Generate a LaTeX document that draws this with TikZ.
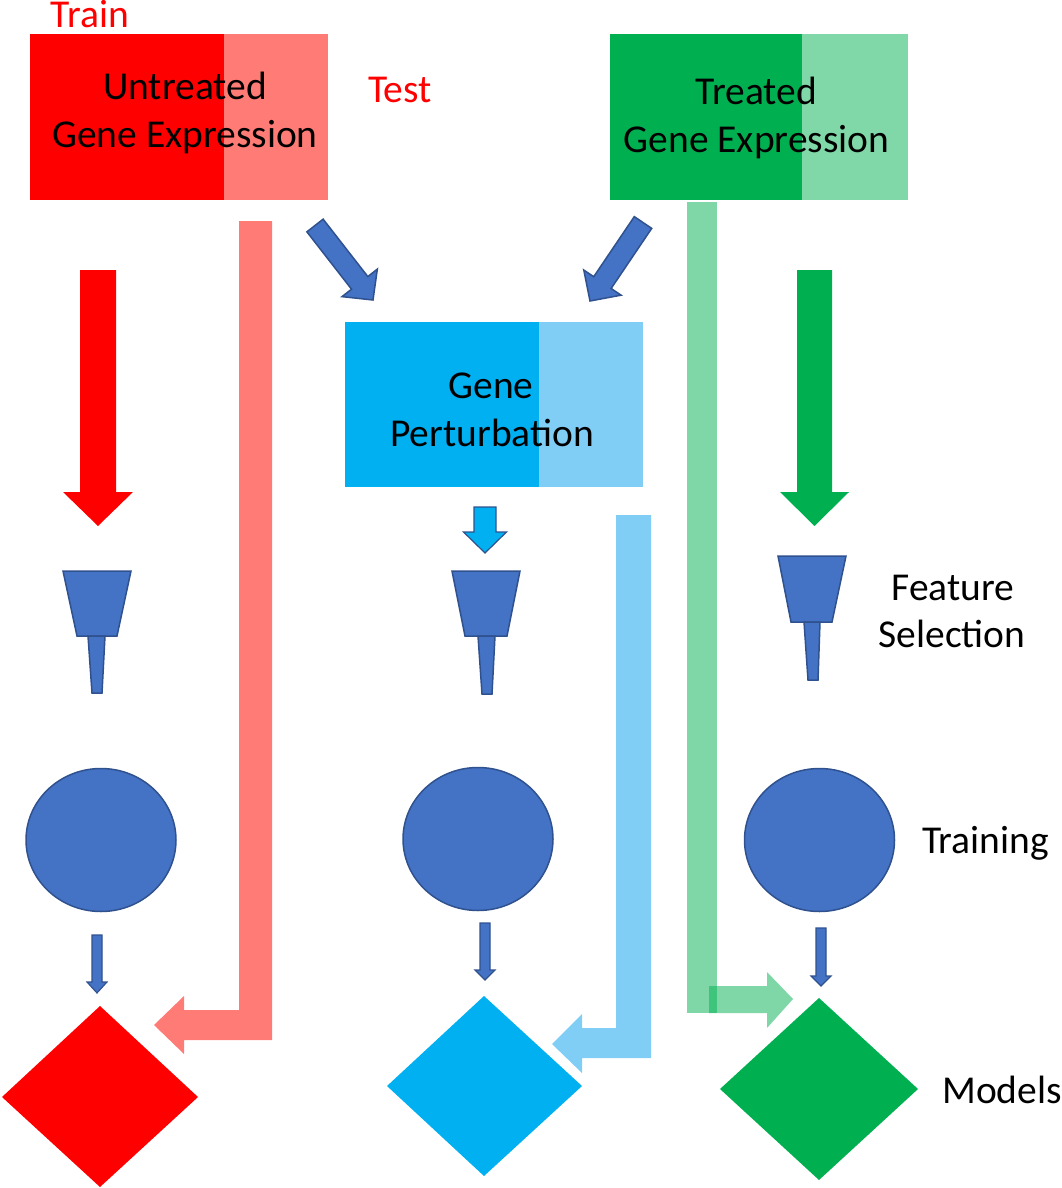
\documentclass[tikz,border=0pt]{standalone}
\usepackage{fontspec}
\setmainfont{Carlito}
\usetikzlibrary{calc,shapes.geometric}
\definecolor{dred}{HTML}{FF0000}
\definecolor{lred}{HTML}{FF7C76}
\definecolor{dgreen}{HTML}{00B050}
\colorlet{lgreen}{dgreen!50!white}
\definecolor{dcyan}{HTML}{00B0F0}
\definecolor{lcyan}{HTML}{80CDF5}
\definecolor{nblue}{HTML}{4472C4}
\definecolor{nbline}{HTML}{2F528F}
% #1 tail, #2 tip, #3 shaft half width, #4 head half width, #5 head length, #6 style
\newcommand\blockarrow[6]{%
  \coordinate (hb) at ($(#2)!#5!(#1)$);
  \path[#6] ($(#1)!#3!90:(#2)$) -- ($(hb)!#3!-90:(#1)$) -- ($(hb)!#4!-90:(#1)$)
     -- (#2) -- ($(hb)!#4!90:(#1)$) -- ($(hb)!#3!90:(#1)$) -- ($(#1)!#3!-90:(#2)$) -- cycle;}
\tikzset{
  lbl/.style={font=\fontsize{39.5}{47}\selectfont, inner sep=0pt, anchor=base},
  blueshape/.style={fill=nblue, draw=nbline, line width=1.5pt, line join=miter},
  trainnode/.style={ellipse, blueshape, inner sep=0pt, minimum width=150pt, minimum height=143pt},
}
\begin{document}
\begin{tikzpicture}[x=1pt,y=-1pt]
\useasboundingbox (0,0) rectangle (1062,1188);
% ---- top boxes
\fill[dred] (30,34) rectangle (224,200);
\fill[lred] (224,34) rectangle (328,200);
\fill[dgreen] (610,34) rectangle (802,200);
\fill[lgreen] (802,34) rectangle (908,200);
\fill[dcyan] (345,322) rectangle (539,487);
\fill[lcyan] (539,322) rectangle (643,487);
\node[lbl] (ut1) at (185,100) {Untreated};
\node[lbl] (ut2) at (185,147) {Gene Expression};
\node[lbl] (tr1) at (756,105) {Treated};
\node[lbl] (tr2) at (756.5,153) {Gene Expression};
\node[lbl] (gp1) at (491,398) {Gene};
\node[lbl] (gp2) at (492,446) {Perturbation};
\node[lbl, text=dred] (train) at (90,28) {Train};
\node[lbl, text=dred] (test) at (400,103) {Test};
\node[lbl] (fs1) at (953,600) {Feature};
\node[lbl] (fs2) at (952,647) {Selection};
\node[lbl] (trn) at (985.5,853) {Training};
\node[lbl] (mdl) at (1002,1103) {Models};
% ---- bent test arrows
\fill[lred] (239,221) -- (272,221) -- (272,1040) -- (184,1040) -- (184,1054) -- (154,1025)
   -- (184,996) -- (184,1010) -- (239,1010) -- cycle;
\fill[lcyan] (616,515) -- (651,515) -- (651,1058) -- (582,1058) -- (582,1073) -- (552,1044)
   -- (582,1014) -- (582,1028) -- (616,1028) -- cycle;
\fill[dgreen, fill opacity=0.5] (687,202) rectangle (717,1013);
\fill[dgreen, fill opacity=0.5] (709,986) -- (767,986) -- (767,972) -- (793,999) -- (767,1028)
   -- (767,1013) -- (709,1013) -- cycle;
% ---- big vertical arrows
\coordinate (rat) at (98,270); \coordinate (rap) at (98,526);
\blockarrow{rat}{rap}{18pt}{35pt}{34pt}{fill=dred}
\coordinate (gat) at (814.5,270); \coordinate (gap) at (814.5,526);
\blockarrow{gat}{gap}{17.5pt}{34.5pt}{34pt}{fill=dgreen}
\coordinate (cat) at (485,507); \coordinate (cap) at (485,553);
\blockarrow{cat}{cap}{11pt}{21.5pt}{21pt}{fill=dcyan, draw=nbline, line width=1.2pt}
% ---- diagonal arrows
\coordinate (d1t) at (315,225.5); \coordinate (d1p) at (373,300);
\blockarrow{d1t}{d1p}{10.3pt}{22.4pt}{21.7pt}{blueshape}
\coordinate (d2t) at (643,222.5); \coordinate (d2p) at (590,301);
\blockarrow{d2t}{d2p}{10.5pt}{22.5pt}{22.2pt}{blueshape}
% ---- funnels
\path[blueshape] (63,571) -- (131,571) -- (117,636) -- (77,636) -- cycle;
\path[blueshape] (88,636) -- (105,636) -- (102,693) -- (92,693) -- cycle;
\path[blueshape] (452,571) -- (520,571) -- (507,636) -- (465,636) -- cycle;
\path[blueshape] (478,636) -- (495,636) -- (492,694) -- (482,694) -- cycle;
\path[blueshape] (778,556) -- (846,556) -- (832,622) -- (791,622) -- cycle;
\path[blueshape] (804,622) -- (820,622) -- (818,680) -- (808,680) -- cycle;
% ---- training circles
\node[trainnode] (c1) at (101,840) {};
\node[trainnode] (c2) at (478,839) {};
\node[trainnode] (c3) at (819.5,840) {};
% ---- small arrows
\coordinate (s1t) at (97,935); \coordinate (s1p) at (97,993);
\blockarrow{s1t}{s1p}{5pt}{10pt}{11pt}{blueshape, line width=1.1pt}
\coordinate (s2t) at (485,923); \coordinate (s2p) at (485,980);
\blockarrow{s2t}{s2p}{5pt}{10pt}{10pt}{blueshape, line width=1.1pt}
\coordinate (s3t) at (821,928); \coordinate (s3p) at (821,986);
\blockarrow{s3t}{s3p}{5pt}{10pt}{10pt}{blueshape, line width=1.1pt}
% ---- model diamonds
\fill[dred] (2,1097) -- (100,1006) -- (198,1097) -- (100,1187) -- cycle;
\fill[dcyan] (387,1086) -- (484,996) -- (582,1086) -- (484,1176) -- cycle;
\fill[dgreen] (720,1089) -- (819,998) -- (918,1089) -- (819,1180) -- cycle;
\end{tikzpicture}
\end{document}
